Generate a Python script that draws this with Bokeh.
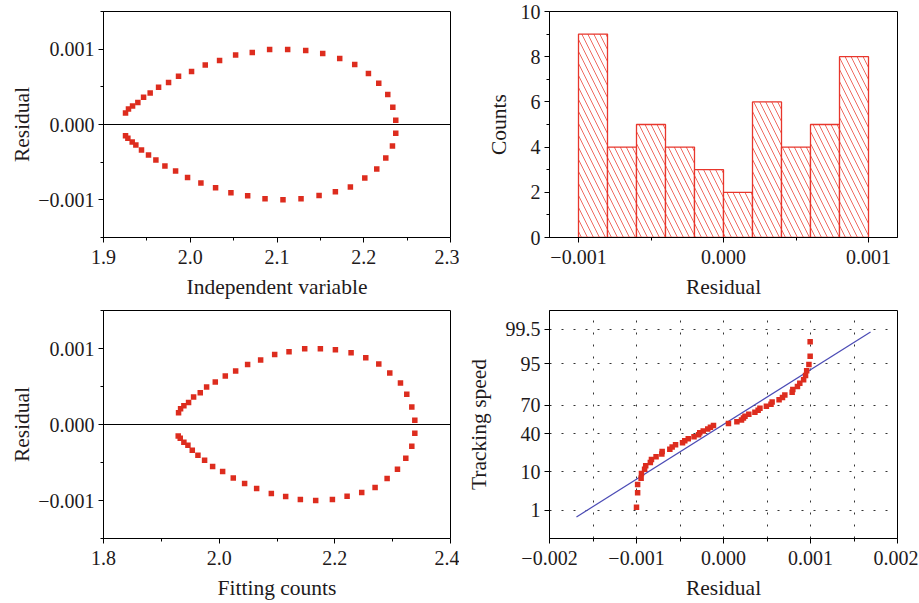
from statistics import NormalDist

from bokeh.plotting import figure
from bokeh.layouts import gridplot
from bokeh.models import Range1d, FixedTicker, CustomJSTickFormatter, Span
from bokeh.embed import file_html
from bokeh.resources import INLINE

# ---------------- data ----------------
indep_upper = [1.9254, 1.9288, 1.9335, 1.9396, 1.9462, 1.9538, 1.9635, 1.9750, 1.9865, 2.0015,
               2.0173, 2.0338, 2.0523, 2.0715, 2.0915, 2.1123, 2.1331, 2.1527, 2.1723, 2.1896,
               2.2054, 2.2173, 2.2277, 2.2335, 2.2369]
resid_upper = [0.000154, 0.000207, 0.000247, 0.000291, 0.000361, 0.000419, 0.000493, 0.000559,
               0.000639, 0.000705, 0.000789, 0.000850, 0.000921, 0.000956, 0.000996, 0.000996,
               0.000982, 0.000943, 0.000877, 0.000797, 0.000678, 0.000546, 0.000398, 0.000229,
               0.000057]
indep_lower = [1.9254, 1.9281, 1.9331, 1.9373, 1.9438, 1.9519, 1.9604, 1.9708, 1.9831, 1.9969,
               2.0123, 2.0292, 2.0469, 2.0662, 2.0862, 2.1069, 2.1277, 2.1485, 2.1673, 2.1846,
               2.2012, 2.2150, 2.2254, 2.2331, 2.2369]
resid_lower = [-0.000150, -0.000181, -0.000233, -0.000273, -0.000339, -0.000405, -0.000471,
               -0.000551, -0.000617, -0.000705, -0.000775, -0.000841, -0.000907, -0.000947,
               -0.000987, -0.001000, -0.000987, -0.000943, -0.000894, -0.000828, -0.000709,
               -0.000590, -0.000445, -0.000286, -0.000115]
fitted_upper = [1.9298, 1.9333, 1.9390, 1.9471, 1.9558, 1.9673, 1.9783, 1.9933, 2.0106, 2.0285,
                2.0492, 2.0717, 2.0960, 2.1208, 2.1479, 2.1750, 2.2010, 2.2281, 2.2535, 2.2760,
                2.2950, 2.3135, 2.3244, 2.3331, 2.3383]
fitted_lower = [1.9292, 1.9327, 1.9390, 1.9460, 1.9535, 1.9633, 1.9748, 1.9887, 2.0060, 2.0244,
                2.0440, 2.0648, 2.0902, 2.1150, 2.1404, 2.1669, 2.1958, 2.2212, 2.2465, 2.2696,
                2.2904, 2.3083, 2.3227, 2.3331, 2.3383]

hist_edges = [-0.001, -0.0008, -0.0006, -0.0004, -0.0002, 0.0, 0.0002, 0.0004, 0.0006, 0.0008, 0.001]
hist_counts = [9, 4, 5, 4, 3, 2, 6, 4, 5, 8]

prob_tick_percent = [1, 10, 40, 70, 95, 99.5]
prob_tick_labels = ["1", "10", "40", "70", "95", "99.5"]
fit_line_resid = [-0.00169, 0.00169]
fit_line_percent = [0.61, 99.39]

# ---------------- styling helpers ----------------
FONT = "Liberation Serif"
TXT = "#1e1a1b"
RED = "#dd2c1e"
ND = NormalDist()

resid_fmt = CustomJSTickFormatter(code="""
    if (Math.abs(tick) < 1e-12) { return '0.000'; }
    return tick.toFixed(3).replace('-', '\u2212');
""")


def fixed_fmt(digits):
    return CustomJSTickFormatter(code="return tick.toFixed(%d).replace('-', '\u2212');" % digits)


def make_fig(fw, fh, bl, br, bt, bb, ylab_standoff):
    p = figure(frame_width=fw, frame_height=fh, min_border_left=bl, min_border_right=br,
               min_border_top=bt, min_border_bottom=bb, output_backend="svg",
               toolbar_location=None, tools="")
    p.outline_line_color = "black"
    p.outline_line_width = 1
    p.background_fill_color = "white"
    p.border_fill_color = "white"
    p.xgrid.visible = False
    p.ygrid.visible = False
    for ax in (p.xaxis[0], p.yaxis[0]):
        ax.axis_line_color = "black"
        ax.major_tick_line_color = "black"
        ax.minor_tick_line_color = "black"
        ax.major_tick_in = 0
        ax.major_tick_out = 5
        ax.minor_tick_in = 0
        ax.minor_tick_out = 3
        ax.major_label_text_font = FONT
        ax.major_label_text_font_size = "20px"
        ax.major_label_text_color = TXT
        ax.axis_label_text_font = FONT
        ax.axis_label_text_font_size = "21.5px"
        ax.axis_label_text_font_style = "normal"
        ax.axis_label_text_color = TXT
    p.xaxis.major_label_standoff = 7
    p.xaxis.axis_label_standoff = 8
    p.yaxis.major_label_standoff = 4
    p.yaxis.axis_label_standoff = ylab_standoff
    return p


def residual_panel(p, xu, xl, xticks, xminor, xdigits, xlabel):
    p.y_range = Range1d(-0.0015, 0.0015)
    p.x_range = Range1d(xticks[0], xticks[-1])
    p.add_layout(Span(location=0, dimension="width", line_color="black", line_width=1))
    p.scatter(xu, resid_upper, marker="square", size=5.5, color=RED, line_color=None)
    p.scatter(xl, resid_lower, marker="square", size=5.5, color=RED, line_color=None)
    p.xaxis.ticker = FixedTicker(ticks=xticks, minor_ticks=xminor)
    p.xaxis.formatter = fixed_fmt(xdigits)
    p.yaxis.ticker = FixedTicker(ticks=[-0.001, 0.0, 0.001], minor_ticks=[-0.0015, -0.0005, 0.0005, 0.0015])
    p.yaxis.formatter = resid_fmt
    p.xaxis.axis_label = xlabel
    p.yaxis.axis_label = "Residual"


# ---------------- panel 1 ----------------
p1 = make_fig(347, 226, 103, 9, 11, 64, 1)
residual_panel(p1, indep_upper, indep_lower, [1.9, 2.0, 2.1, 2.2, 2.3],
               [1.95, 2.05, 2.15, 2.25], 1, "Independent variable")

# ---------------- panel 2 (histogram) ----------------
p2 = make_fig(348, 226, 90, 21, 11, 64, 7)
p2.x_range = Range1d(-0.0012, 0.0012)
p2.y_range = Range1d(0, 10)
p2.quad(left=hist_edges[:-1], right=hist_edges[1:], bottom=0, top=hist_counts,
        fill_color="white", line_color="#e8362c", line_width=1.3,
        hatch_pattern="\\", hatch_color="#ef6a60", hatch_scale=12, hatch_weight=1)
p2.xaxis.ticker = FixedTicker(ticks=[-0.001, 0.0, 0.001], minor_ticks=[-0.0005, 0.0005])
p2.xaxis.formatter = resid_fmt
p2.yaxis.ticker = FixedTicker(ticks=[0, 2, 4, 6, 8, 10], minor_ticks=[1, 3, 5, 7, 9])
p2.xaxis.axis_label = "Residual"
p2.yaxis.axis_label = "Counts"

# ---------------- panel 3 ----------------
p3 = make_fig(347, 228, 103, 9, 9, 64, 1)
residual_panel(p3, fitted_upper, fitted_lower, [1.8, 2.0, 2.2, 2.4],
               [1.9, 2.1, 2.3], 1, "Fitting counts")

# ---------------- panel 4 (normal probability plot) ----------------
p4 = make_fig(348, 228, 90, 21, 9, 64, 12)
p4.x_range = Range1d(-0.002, 0.002)
z_lim = ND.inv_cdf(0.999)
p4.y_range = Range1d(-z_lim, z_lim)

sorted_resid = sorted(resid_upper + resid_lower)
n = len(sorted_resid)
prob_z = [ND.inv_cdf((i + 1 - 0.375) / (n + 0.25)) for i in range(n)]
tick_z = [ND.inv_cdf(v / 100.0) for v in prob_tick_percent]
fit_z = [ND.inv_cdf(v / 100.0) for v in fit_line_percent]

p4.xgrid.visible = True
p4.ygrid.visible = True
p4.xgrid.ticker = FixedTicker(ticks=[-0.002, -0.0015, -0.001, -0.0005, 0.0, 0.0005, 0.001, 0.0015, 0.002])
p4.ygrid.ticker = FixedTicker(ticks=tick_z)
for g in (p4.xgrid[0], p4.ygrid[0]):
    g.grid_line_color = "#333333"
    g.grid_line_dash = "2 10"
    g.grid_line_width = 1

p4.line(fit_line_resid, fit_z, line_color="#4b4bb5", line_width=1.2)
p4.scatter(sorted_resid, prob_z, marker="square", size=5.5, color=RED, line_color=None)

p4.xaxis.ticker = FixedTicker(ticks=[-0.002, -0.001, 0.0, 0.001, 0.002],
                              minor_ticks=[-0.0015, -0.0005, 0.0005, 0.0015])
p4.xaxis.formatter = resid_fmt
p4.yaxis.ticker = FixedTicker(ticks=tick_z, minor_ticks=[])
p4.yaxis.formatter = CustomJSTickFormatter(args=dict(tz=tick_z, labs=prob_tick_labels), code="""
    for (let i = 0; i < tz.length; i++) {
        if (Math.abs(tz[i] - tick) < 1e-6) { return labs[i]; }
    }
    return '';
""")
p4.xaxis.axis_label = "Residual"
p4.yaxis.axis_label = "Tracking speed"

grid = gridplot([[p1, p2], [p3, p4]], toolbar_location=None)

open("out.html", "w").write(file_html(grid, INLINE))
